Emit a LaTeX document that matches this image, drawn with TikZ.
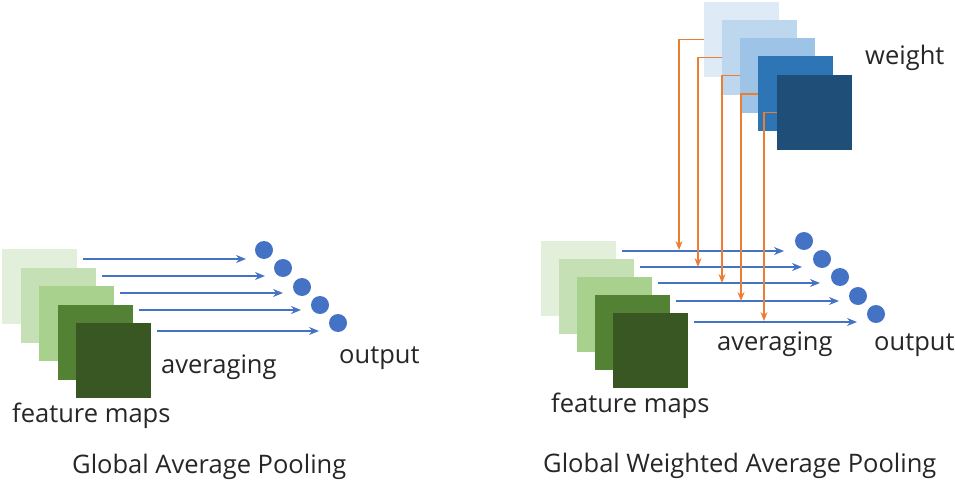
\documentclass[tikz,border=0pt]{standalone}
\usepackage{fontspec}
\setmainfont{Open Sans}
\usepackage{tikz}
\usetikzlibrary{arrows,arrows.meta,calc,positioning}
\definecolor{gA}{HTML}{E2EFDA}
\definecolor{gB}{HTML}{C5E0B4}
\definecolor{gC}{HTML}{A9D18E}
\definecolor{gD}{HTML}{548235}
\definecolor{gE}{HTML}{385723}
\definecolor{bA}{HTML}{DEEBF7}
\definecolor{bB}{HTML}{BDD7EE}
\definecolor{bC}{HTML}{9DC3E6}
\definecolor{bD}{HTML}{2E75B6}
\definecolor{bE}{HTML}{1F4E79}
\definecolor{lineblue}{HTML}{4472C4}
\definecolor{lineorange}{HTML}{ED7D31}
\tikzstyle{fmap} = [rectangle, minimum size=75pt, inner sep=0pt, outer sep=0pt]
\tikzstyle{outdot} = [circle, fill=lineblue, minimum size=18pt, inner sep=0pt]
\tikzstyle{bluearrow} = [line width=1.8pt, ->, >={Stealth[length=10pt, width=8pt]}, draw=lineblue]
\tikzstyle{orangearrow} = [line width=1.2pt, ->, >={Stealth[length=9pt, width=7pt]}, draw=lineorange]
\tikzstyle{lbl} = [anchor=base west, inner sep=0pt, font=\fontsize{25.5}{30}\selectfont, text=black!85]

\begin{document}
\begin{tikzpicture}[x=1pt, y=-1pt]
        \useasboundingbox (0,0) rectangle (955,481);
        % left: global average pooling
        \node (g1) [fmap, fill=gA] at (39.5,286.5) {};
        \node (g2) [fmap, fill=gB] at (58,305) {};
        \node (g3) [fmap, fill=gC] at (76.5,323.5) {};
        \node (g4) [fmap, fill=gD] at (95,342) {};
        \node (g5) [fmap, fill=gE] at (113.5,360.5) {};

        \node (c1) [outdot] at (264,250) {};
        \node (c2) [outdot] at (283,268) {};
        \node (c3) [outdot] at (302,287) {};
        \node (c4) [outdot] at (320,305) {};
        \node (c5) [outdot] at (338,323) {};

        \coordinate (a1) at ($(c1)+(-18,9)$);
        \coordinate (a2) at ($(c2)+(-18,8)$);
        \coordinate (a3) at ($(c3)+(-19,6)$);
        \coordinate (a4) at ($(c4)+(-19,5)$);
        \coordinate (a5) at ($(c5)+(-19,8)$);
        \draw [bluearrow] ([xshift=6pt]g1.east |- a1) -- (a1);
        \draw [bluearrow] ([xshift=6pt]g2.east |- a2) -- (a2);
        \draw [bluearrow] ([xshift=6pt]g3.east |- a3) -- (a3);
        \draw [bluearrow] ([xshift=6pt]g4.east |- a4) -- (a4);
        \draw [bluearrow] ([xshift=6pt]g5.east |- a5) -- (a5);

        \node (avgL) [lbl] at (161,373) {averaging};
        \node (outL) [lbl] at (339,363) {output};
        \node (fmL) [lbl] at (12,422) {feature maps};
        \node (capL) [lbl] at (72,473) {Global Average Pooling};

        % right: global weighted average pooling
        \node (h1) [fmap, fill=gA] at (578.5,278.5) {};
        \node (h2) [fmap, fill=gB] at (596.5,296.5) {};
        \node (h3) [fmap, fill=gC] at (614.5,314.5) {};
        \node (h4) [fmap, fill=gD] at (632.5,332.5) {};
        \node (h5) [fmap, fill=gE] at (650.5,350.5) {};

        \node (d1) [outdot] at (804,241) {};
        \node (d2) [outdot] at (822,259) {};
        \node (d3) [outdot] at (840,277) {};
        \node (d4) [outdot] at (858,296) {};
        \node (d5) [outdot] at (876,314) {};

        \coordinate (b1) at ($(d1)+(-20,10)$);
        \coordinate (b2) at ($(d2)+(-20,8)$);
        \coordinate (b3) at ($(d3)+(-20,6)$);
        \coordinate (b4) at ($(d4)+(-19,5)$);
        \coordinate (b5) at ($(d5)+(-19,8)$);
        \draw [bluearrow] ([xshift=6pt]h1.east |- b1) -- (b1);
        \draw [bluearrow] ([xshift=6pt]h2.east |- b2) -- (b2);
        \draw [bluearrow] ([xshift=6pt]h3.east |- b3) -- (b3);
        \draw [bluearrow] ([xshift=6pt]h4.east |- b4) -- (b4);
        \draw [bluearrow] ([xshift=6pt]h5.east |- b5) -- (b5);

        \node (w1) [fmap, fill=bA] at (741.5,39.5) {};
        \node (w2) [fmap, fill=bB] at (759.5,57.5) {};
        \node (w3) [fmap, fill=bC] at (777.5,75.5) {};
        \node (w4) [fmap, fill=bD] at (795.5,94) {};

        \coordinate (o1) at (679,250);
        \coordinate (o2) at (698,267);
        \coordinate (o3) at (722,283);
        \coordinate (o4) at (741,301);
        \coordinate (o5) at (764,321);
        \draw [orangearrow] (w1.west) -| (o1);
        \draw [orangearrow] (w2.west) -| (o2);
        \draw [orangearrow] (w3.west) -| (o3);
        \draw [orangearrow] (w4.west) -| (o4);

        \node (w5) [fmap, fill=bE] at (814.5,112.5) {};
        \draw [orangearrow] (w5.west) -| (o5);

        \node (wgt) [lbl] at (865,65) {weight};
        \node (avgR) [lbl] at (717,350) {averaging};
        \node (outR) [lbl] at (874,350) {output};
        \node (fmR) [lbl] at (551,412) {feature maps};
        \node (capR) [lbl] at (543,472) {Global Weighted Average Pooling};
    \end{tikzpicture}
\end{document}
